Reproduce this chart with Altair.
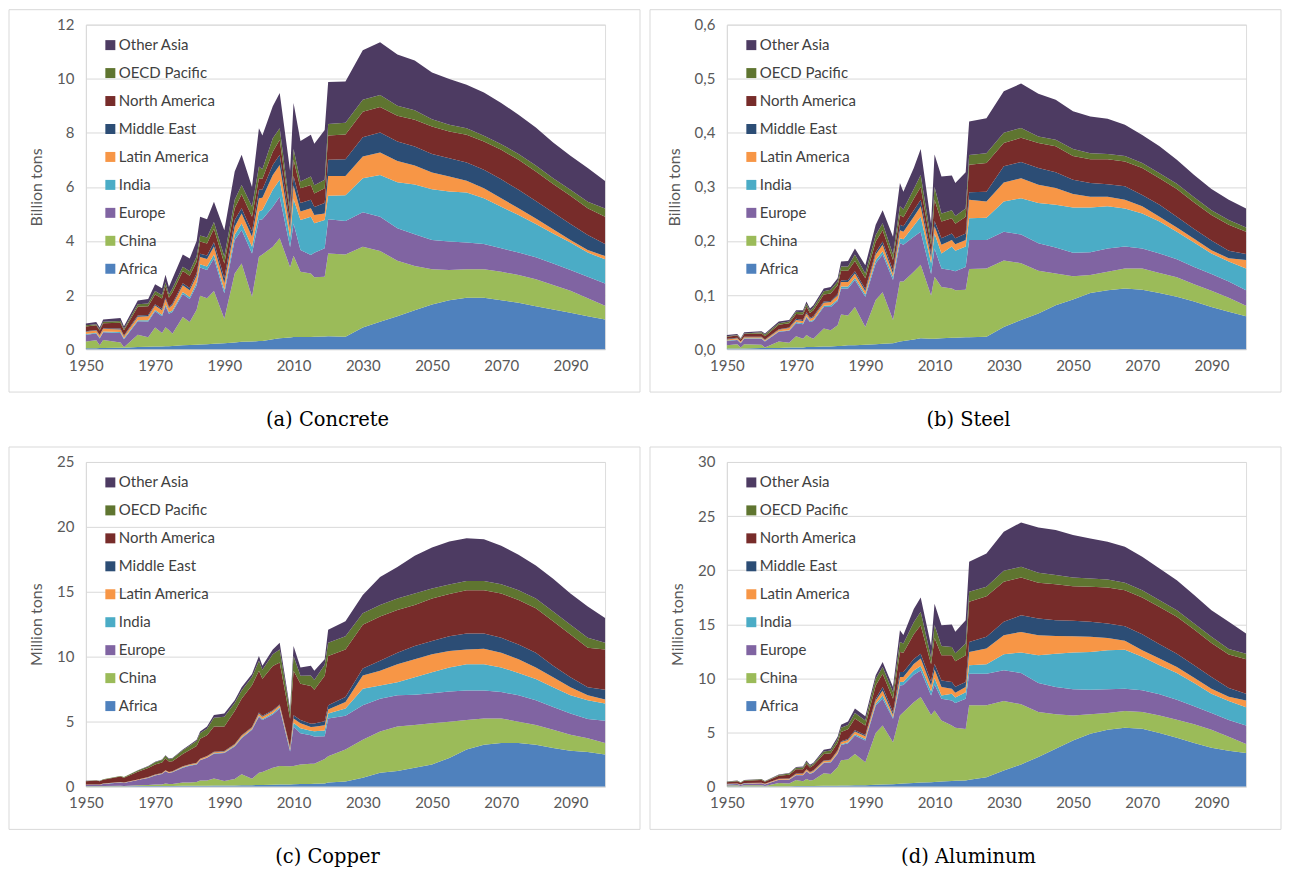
import altair as alt
import pandas as pd

# ---------------- data ----------------
hist_years = [1950, 1953, 1954, 1955, 1960, 1961, 1965, 1968, 1970, 1972, 1973, 1974, 1975,
              1978, 1980, 1982, 1983, 1985, 1987, 1990, 1993, 1995, 1998, 2000, 2001, 2004,
              2006, 2009, 2010, 2012, 2015, 2016, 2019]
future_years = [2020, 2025, 2030, 2035, 2040, 2045, 2050, 2055, 2060, 2065, 2070, 2075,
                2080, 2085, 2090, 2095, 2100]
years = hist_years + future_years

regions = ["Africa", "China", "Europe", "India", "Latin America", "Middle East",
           "North America", "OECD Pacific", "Other Asia"]
colors = ["#4F81BD", "#9BBB59", "#8064A2", "#4BACC6", "#F79646", "#2C4D75",
          "#772C2A", "#5F7530", "#4D3B62"]

x_ticks = [1950, 1970, 1990, 2010, 2030, 2050, 2070, 2090]

# (a) Concrete, billion tons
concrete_africa = [0.03,0.03,0.04,0.04,0.05,0.05,0.08,0.09,0.1,0.1,0.11,0.11,0.12,0.14,0.15,0.16,0.17,0.18,0.2,0.22,0.25,0.27,0.28,0.3,0.3,0.37,0.4,0.43,0.45,0.45,0.45,0.46,0.47,
                   0.48,0.46,0.8,1.01,1.22,1.44,1.65,1.81,1.9,1.9,1.81,1.72,1.59,1.47,1.35,1.22,1.1]
concrete_china = [0.25,0.3,0.1,0.3,0.2,0.02,0.45,0.35,0.7,0.5,0.7,0.6,0.45,1.05,0.85,1.3,1.8,1.7,1.95,0.9,2.55,2.9,1.66,3.12,3.2,3.42,3.7,2.6,3.0,2.41,2.35,2.2,2.21,
                  3.06,3.04,2.99,2.62,2.05,1.63,1.3,1.12,1.05,1.05,1.05,1.02,0.99,0.9,0.81,0.66,0.5]
concrete_europe = [0.25,0.25,0.25,0.28,0.35,0.3,0.5,0.58,0.6,0.62,0.78,0.6,0.8,0.85,0.85,0.9,1.05,1.05,1.2,0.95,1.24,1.24,1.6,1.36,1.3,1.48,1.54,0.75,1.2,0.81,0.68,0.9,1.05,
                   1.26,1.24,1.27,1.27,1.2,1.18,1.09,1.05,0.99,0.94,0.87,0.83,0.82,0.8,0.77,0.8,0.83]
concrete_india = [0.03,0.03,0.03,0.03,0.03,0.03,0.04,0.05,0.05,0.05,0.06,0.05,0.06,0.07,0.08,0.1,0.12,0.13,0.15,0.12,0.19,0.24,0.25,0.31,0.35,0.62,0.62,0.35,0.9,1.11,1.42,1.1,1.05,
                  0.87,0.95,1.26,1.54,1.7,1.84,1.87,1.85,1.85,1.69,1.54,1.39,1.23,1.11,1.01,0.89,0.89]
concrete_latam = [0.08,0.08,0.08,0.1,0.1,0.08,0.13,0.15,0.16,0.17,0.2,0.16,0.2,0.25,0.25,0.25,0.27,0.27,0.3,0.25,0.3,0.37,0.37,0.49,0.45,0.55,0.55,0.3,0.5,0.31,0.31,0.3,0.24,
                  0.73,0.71,0.8,0.83,0.79,0.7,0.62,0.55,0.44,0.37,0.31,0.25,0.2,0.15,0.1,0.1,0.12]
concrete_mideast = [0.02,0.02,0.02,0.02,0.03,0.02,0.04,0.04,0.05,0.05,0.06,0.05,0.06,0.08,0.08,0.1,0.12,0.13,0.15,0.18,0.25,0.19,0.19,0.31,0.3,0.37,0.38,0.2,0.35,0.31,0.31,0.3,0.38,
                    0.6,0.62,0.72,0.74,0.72,0.7,0.69,0.68,0.67,0.68,0.7,0.68,0.65,0.62,0.59,0.55,0.45]
concrete_northam = [0.18,0.17,0.17,0.19,0.22,0.2,0.33,0.33,0.36,0.38,0.42,0.33,0.4,0.45,0.45,0.42,0.45,0.45,0.5,0.55,0.43,0.52,0.55,0.43,0.4,0.49,0.55,0.35,0.6,0.55,0.55,0.5,0.55,
                    0.9,0.92,0.94,0.94,0.95,0.99,1.01,0.99,1.03,1.05,1.09,1.11,1.09,1.06,1.04,0.99,1.01]
concrete_oecdpac = [0.04,0.04,0.04,0.05,0.06,0.05,0.09,0.1,0.13,0.13,0.14,0.12,0.15,0.16,0.17,0.2,0.22,0.22,0.25,0.25,0.31,0.34,0.37,0.43,0.35,0.5,0.43,0.2,0.4,0.25,0.31,0.3,0.31,
                    0.43,0.43,0.44,0.45,0.37,0.35,0.27,0.25,0.24,0.21,0.21,0.22,0.22,0.21,0.22,0.24,0.3]
concrete_otherasia = [0.07,0.08,0.07,0.09,0.11,0.1,0.14,0.16,0.25,0.25,0.28,0.28,0.36,0.45,0.47,0.57,0.7,0.67,0.75,0.98,1.05,1.12,0.73,1.42,1.25,1.18,1.3,1.42,1.7,1.5,1.55,1.54,1.84,
                      1.55,1.53,1.83,1.95,1.9,1.84,1.73,1.69,1.61,1.6,1.52,1.45,1.41,1.32,1.26,1.25,1.02]

# (b) Steel, billion tons
steel_africa = [0.001,0.001,0.001,0.001,0.002,0.002,0.002,0.003,0.003,0.003,0.004,0.004,0.004,0.005,0.005,0.006,0.006,0.007,0.007,0.008,0.009,0.01,0.011,0.014,0.015,0.018,0.02,0.019,0.019,0.02,0.021,0.021,0.022,
                0.022,0.023,0.041,0.054,0.066,0.081,0.092,0.104,0.109,0.112,0.11,0.104,0.097,0.088,0.078,0.069,0.061]
steel_china = [0.006,0.008,0.002,0.008,0.006,0.001,0.012,0.009,0.021,0.016,0.022,0.018,0.015,0.033,0.03,0.038,0.058,0.055,0.071,0.033,0.082,0.095,0.043,0.111,0.11,0.125,0.136,0.08,0.115,0.095,0.091,0.088,0.088,
               0.126,0.126,0.123,0.105,0.079,0.059,0.043,0.033,0.034,0.037,0.039,0.037,0.036,0.032,0.03,0.026,0.019]
steel_europe = [0.008,0.008,0.008,0.01,0.011,0.011,0.018,0.022,0.024,0.027,0.033,0.028,0.033,0.04,0.043,0.045,0.048,0.05,0.05,0.056,0.068,0.07,0.074,0.071,0.068,0.065,0.061,0.04,0.052,0.034,0.034,0.035,0.042,
                0.054,0.053,0.053,0.053,0.051,0.048,0.043,0.042,0.043,0.041,0.037,0.036,0.033,0.032,0.031,0.03,0.029]
steel_india = [0.001,0.001,0.001,0.001,0.001,0.001,0.001,0.001,0.002,0.002,0.002,0.002,0.002,0.002,0.003,0.003,0.004,0.004,0.004,0.004,0.006,0.006,0.006,0.009,0.01,0.02,0.028,0.02,0.028,0.028,0.044,0.038,0.038,
               0.04,0.041,0.056,0.067,0.074,0.079,0.084,0.083,0.078,0.07,0.065,0.059,0.051,0.045,0.038,0.037,0.04]
steel_latam = [0.002,0.002,0.002,0.002,0.002,0.002,0.003,0.004,0.004,0.004,0.005,0.004,0.005,0.006,0.006,0.007,0.008,0.008,0.008,0.006,0.01,0.012,0.006,0.015,0.014,0.017,0.019,0.01,0.013,0.016,0.012,0.012,0.012,
               0.034,0.03,0.035,0.037,0.034,0.031,0.025,0.02,0.018,0.016,0.013,0.009,0.008,0.007,0.006,0.006,0.016]
steel_mideast = [0.001,0.001,0.0,0.001,0.001,0.001,0.001,0.001,0.002,0.002,0.002,0.002,0.002,0.002,0.002,0.003,0.003,0.004,0.004,0.004,0.004,0.006,0.006,0.01,0.01,0.012,0.012,0.008,0.01,0.012,0.012,0.011,0.012,
                 0.014,0.018,0.03,0.03,0.031,0.029,0.026,0.025,0.023,0.025,0.021,0.022,0.02,0.018,0.018,0.014,0.011]
steel_northam = [0.004,0.004,0.004,0.005,0.006,0.006,0.008,0.008,0.009,0.01,0.011,0.009,0.011,0.013,0.014,0.016,0.018,0.017,0.019,0.02,0.02,0.021,0.019,0.018,0.017,0.021,0.024,0.015,0.039,0.031,0.028,0.027,0.031,
                 0.051,0.053,0.043,0.045,0.046,0.048,0.044,0.044,0.046,0.046,0.05,0.049,0.051,0.049,0.047,0.048,0.041]
steel_oecdpac = [0.001,0.001,0.001,0.001,0.002,0.003,0.003,0.003,0.004,0.004,0.005,0.004,0.005,0.006,0.007,0.007,0.008,0.008,0.012,0.009,0.012,0.013,0.01,0.016,0.014,0.018,0.022,0.01,0.024,0.015,0.015,0.014,0.015,
                 0.018,0.018,0.019,0.018,0.012,0.012,0.013,0.011,0.01,0.01,0.009,0.009,0.01,0.01,0.009,0.009,0.008]
steel_otherasia = [0.002,0.002,0.001,0.002,0.002,0.002,0.003,0.003,0.003,0.004,0.004,0.004,0.004,0.005,0.005,0.006,0.009,0.01,0.011,0.015,0.019,0.024,0.033,0.043,0.033,0.039,0.048,0.03,0.06,0.068,0.064,0.061,0.067,
                   0.062,0.065,0.077,0.082,0.079,0.074,0.07,0.068,0.065,0.058,0.052,0.05,0.044,0.041,0.039,0.037,0.035]

# (c) Copper, million tons
copper_africa = [0.01,0.01,0.01,0.01,0.02,0.02,0.03,0.03,0.03,0.04,0.04,0.04,0.04,0.05,0.05,0.05,0.06,0.06,0.07,0.07,0.08,0.09,0.1,0.12,0.12,0.14,0.15,0.16,0.17,0.18,0.19,0.2,0.22,
                 0.3,0.38,0.68,1.06,1.19,1.44,1.7,2.2,2.84,3.22,3.34,3.34,3.22,2.96,2.76,2.66,2.46]
copper_china = [0.02,0.03,0.02,0.03,0.04,0.01,0.06,0.08,0.12,0.12,0.18,0.15,0.15,0.25,0.25,0.3,0.4,0.4,0.55,0.35,0.5,0.85,0.5,0.94,1.0,1.3,1.42,1.4,1.4,1.52,1.55,1.55,1.9,
                2.03,2.46,2.92,3.17,3.42,3.3,3.16,2.79,2.28,2.02,1.9,1.65,1.52,1.4,1.22,1.06,0.88]
copper_europe = [0.1,0.1,0.1,0.15,0.25,0.24,0.4,0.55,0.7,0.8,0.95,0.85,0.9,1.15,1.3,1.35,1.55,1.75,1.9,2.15,2.5,2.78,3.76,4.31,4.0,4.1,4.43,1.14,3.04,2.4,2.2,2.1,1.75,
                 2.91,2.61,2.66,2.53,2.41,2.33,2.33,2.33,2.28,2.16,2.03,2.03,1.9,1.77,1.64,1.47,1.73]
copper_india = [0.01,0.01,0.01,0.01,0.01,0.01,0.01,0.01,0.02,0.02,0.02,0.02,0.02,0.02,0.03,0.03,0.03,0.03,0.04,0.04,0.05,0.06,0.06,0.08,0.08,0.1,0.1,0.1,0.3,0.38,0.35,0.4,0.45,
                0.38,0.55,1.26,1.02,1.01,1.34,1.6,1.85,2.02,2.02,1.9,1.72,1.64,1.52,1.4,1.45,1.33]
copper_latam = [0.01,0.01,0.01,0.02,0.02,0.02,0.03,0.04,0.04,0.04,0.05,0.05,0.05,0.06,0.06,0.07,0.07,0.08,0.08,0.09,0.1,0.12,0.12,0.17,0.17,0.17,0.16,0.15,0.33,0.38,0.3,0.35,0.4,
                0.31,0.51,1.02,1.14,1.39,1.39,1.39,1.27,1.14,1.19,1.14,1.06,0.89,0.76,0.63,0.38,0.3]
copper_mideast = [0.0,0.0,0.0,0.0,0.0,0.0,0.01,0.01,0.01,0.01,0.01,0.01,0.01,0.02,0.02,0.02,0.02,0.03,0.03,0.03,0.04,0.05,0.05,0.08,0.07,0.07,0.06,0.07,0.25,0.26,0.25,0.25,0.3,
                  0.33,0.38,0.55,0.76,0.89,1.02,1.02,1.14,1.22,1.17,1.14,1.14,1.14,0.89,0.76,0.63,0.75]
copper_northam = [0.25,0.29,0.25,0.3,0.42,0.38,0.6,0.7,0.78,0.82,0.9,0.8,0.78,0.95,1.1,1.3,1.55,1.6,1.95,1.89,2.55,2.81,3.21,3.22,2.85,3.4,3.23,2.2,3.43,2.8,2.9,2.6,3.5,
                  3.8,3.67,3.37,3.42,3.29,3.16,3.29,3.24,3.34,3.34,3.42,3.42,3.42,3.42,3.29,3.04,3.11]
copper_oecdpac = [0.02,0.02,0.02,0.03,0.04,0.04,0.08,0.12,0.16,0.19,0.21,0.18,0.2,0.28,0.33,0.38,0.42,0.5,0.68,0.75,0.6,0.64,0.64,0.76,0.7,0.9,1.01,0.5,1.14,0.6,0.8,0.75,0.85,
                  1.01,1.02,0.89,0.88,0.89,0.89,0.76,0.73,0.71,0.71,0.71,0.76,0.76,0.76,0.76,0.76,0.51]
copper_otherasia = [0.01,0.01,0.01,0.01,0.01,0.01,0.02,0.03,0.04,0.04,0.05,0.05,0.05,0.06,0.08,0.1,0.13,0.16,0.2,0.25,0.22,0.25,0.22,0.38,0.31,0.38,0.51,0.22,0.76,0.65,0.76,0.72,0.43,
                    1.01,1.14,1.4,2.15,2.41,2.91,3.16,3.32,3.29,3.22,2.96,2.74,2.53,2.53,2.41,2.41,1.9]

# (d) Aluminum, million tons
alu_africa = [0.01,0.01,0.01,0.02,0.02,0.02,0.03,0.03,0.04,0.04,0.05,0.05,0.05,0.06,0.06,0.07,0.08,0.09,0.1,0.12,0.15,0.17,0.2,0.25,0.27,0.33,0.37,0.4,0.42,0.45,0.5,0.52,0.55,
              0.62,0.86,1.48,2.04,2.72,3.49,4.26,4.88,5.25,5.43,5.34,4.94,4.51,4.01,3.58,3.3,3.09]
alu_china = [0.08,0.1,0.03,0.1,0.1,0.02,0.3,0.25,0.55,0.45,0.65,0.5,0.55,1.15,1.1,1.7,2.35,2.4,2.9,2.11,4.8,5.46,3.88,6.31,6.6,7.46,7.89,6.2,6.6,5.64,5.13,4.9,4.77,
             6.88,6.64,6.42,5.55,4.16,3.18,2.31,1.79,1.54,1.55,1.54,1.63,1.66,1.73,1.67,1.3,0.84]
alu_europe = [0.1,0.12,0.1,0.14,0.17,0.15,0.28,0.35,0.45,0.55,0.7,0.6,0.7,0.95,1.05,1.25,1.4,1.5,1.7,2.01,2.54,2.47,2.17,2.78,2.5,2.54,2.47,1.8,2.4,2.01,2.32,2.3,2.78,
              2.93,2.93,2.84,2.9,2.69,2.53,2.41,2.28,2.19,2.06,2.01,1.95,1.85,1.67,1.54,1.55,1.7]
alu_india = [0.01,0.01,0.01,0.01,0.01,0.01,0.02,0.02,0.03,0.03,0.04,0.04,0.04,0.05,0.06,0.07,0.08,0.1,0.12,0.15,0.15,0.31,0.15,0.31,0.3,0.4,0.41,0.4,0.6,0.31,0.62,0.5,0.62,
             0.77,0.87,1.48,1.89,2.56,3.08,3.4,3.49,3.61,3.61,3.09,2.68,2.47,2.16,1.79,1.75,1.7]
alu_latam = [0.03,0.03,0.03,0.03,0.04,0.04,0.06,0.07,0.09,0.1,0.12,0.1,0.12,0.15,0.15,0.18,0.2,0.2,0.25,0.25,0.31,0.47,0.22,0.46,0.45,0.6,0.68,0.5,0.8,0.78,0.46,0.45,0.47,
             1.24,1.45,1.76,1.91,1.85,1.64,1.51,1.39,1.14,0.81,0.61,0.62,0.56,0.49,0.46,0.4,0.62]
alu_mideast = [0.01,0.01,0.01,0.01,0.01,0.01,0.02,0.02,0.03,0.03,0.04,0.04,0.04,0.05,0.05,0.07,0.08,0.1,0.12,0.12,0.16,0.31,0.25,0.46,0.45,0.45,0.46,0.4,0.5,0.61,0.62,0.55,0.46,
               0.92,1.08,1.24,1.54,1.54,1.45,1.42,1.39,1.33,1.35,1.48,1.33,1.23,1.14,1.08,0.8,0.62]
alu_northam = [0.16,0.2,0.16,0.22,0.25,0.18,0.27,0.35,0.4,0.4,0.5,0.42,0.45,0.6,0.6,0.7,0.85,0.9,1.1,0.87,1.23,1.23,1.23,1.86,1.8,2.3,2.63,1.6,2.4,2.32,2.47,2.35,2.47,
               3.71,3.76,3.7,3.49,3.31,3.33,3.21,3.24,3.34,3.34,3.4,3.45,3.4,3.31,3.15,3.1,3.18]
alu_oecdpac = [0.03,0.05,0.03,0.05,0.07,0.05,0.08,0.1,0.13,0.15,0.18,0.15,0.15,0.22,0.25,0.33,0.38,0.4,0.5,0.46,0.62,0.62,0.62,0.93,0.85,1.1,1.24,0.6,1.2,0.87,0.78,0.75,1.09,
               0.92,0.87,1.02,0.99,0.92,0.84,0.8,0.77,0.74,0.68,0.68,0.62,0.62,0.55,0.56,0.5,0.53]
alu_otherasia = [0.02,0.02,0.02,0.02,0.03,0.02,0.04,0.06,0.08,0.1,0.12,0.1,0.1,0.17,0.18,0.23,0.28,0.31,0.41,0.41,0.31,0.46,0.47,1.08,0.78,1.22,1.33,1.1,1.98,1.92,2.07,1.98,2.16,
                 2.78,3.08,3.61,4.1,4.2,4.16,3.92,3.7,3.48,3.33,3.08,2.93,2.77,2.63,2.47,2.52,1.86]

# ---------------- chart ----------------
AXIS_FONT = "Lato"
GRID = "#D9D9D9"
TEXT = "#595959"
W, H = 520, 325


def make_df(series):
    rows = []
    for idx, (reg, vals) in enumerate(zip(regions, series)):
        for yr, v in zip(years, vals):
            rows.append({"year": yr, "region": reg, "value": v, "stack": idx})
    return pd.DataFrame(rows)


def panel(series, yvals, ytitle, caption, label_expr=None):
    df = make_df(series)
    yaxis_kwargs = dict(values=yvals, title=ytitle, grid=True, gridColor=GRID, domainColor=GRID,
                        ticks=False, labelFont=AXIS_FONT, labelFontSize=15, labelColor=TEXT,
                        labelPadding=12, labelFlush=False, titleFont=AXIS_FONT, titleFontSize=16,
                        titleFontWeight="normal", titleColor=TEXT, titlePadding=12)
    if label_expr:
        yaxis_kwargs["labelExpr"] = label_expr
    area = alt.Chart(df).mark_area(interpolate="linear", opacity=1).encode(
        x=alt.X("year:Q", scale=alt.Scale(domain=[1950, 2100], nice=False, zero=False),
                axis=alt.Axis(values=x_ticks, format="d", title=None, grid=False, ticks=False,
                              domainColor=GRID, labelFont=AXIS_FONT, labelFontSize=15,
                              labelColor=TEXT, labelPadding=9, labelFlush=False)),
        y=alt.Y("value:Q", stack="zero",
                scale=alt.Scale(domain=[0, yvals[-1]], nice=False),
                axis=alt.Axis(**yaxis_kwargs)),
        color=alt.Color("region:N",
                        scale=alt.Scale(domain=regions[::-1], range=colors[::-1]),
                        legend=alt.Legend(title=None, orient="none", legendX=17, legendY=13,
                                          symbolType="square", symbolSize=100,
                                          symbolStrokeWidth=0, symbolOpacity=1,
                                          labelFont=AXIS_FONT, labelFontSize=15,
                                          labelColor="#404040", rowPadding=12,
                                          labelOffset=1, padding=0, labelLimit=300)),
        order=alt.Order("stack:Q", sort="ascending"),
    )
    frame_df = pd.DataFrame({"caption": [caption]})
    frame = alt.Chart(frame_df).mark_rect(fill="white", fillOpacity=0, stroke=GRID,
                                          strokeWidth=1).encode(
        x=alt.value(-77), x2=alt.value(555), y=alt.value(-15), y2=alt.value(368))
    cap = alt.Chart(frame_df).mark_text(font="DejaVu Serif", fontSize=19.5,
                                        color="#000000", baseline="middle",
                                        align="center").encode(
        x=alt.value(242), y=alt.value(396), text="caption:N")
    return alt.layer(frame, area, cap).properties(width=W, height=H)


comma = "replace(format(datum.value, '.1f'), '.', ',')"

pa = panel([concrete_africa, concrete_china, concrete_europe, concrete_india, concrete_latam,
            concrete_mideast, concrete_northam, concrete_oecdpac, concrete_otherasia],
           [0, 2, 4, 6, 8, 10, 12], "Billion tons", "(a) Concrete")
pb = panel([steel_africa, steel_china, steel_europe, steel_india, steel_latam,
            steel_mideast, steel_northam, steel_oecdpac, steel_otherasia],
           [0, 0.1, 0.2, 0.3, 0.4, 0.5, 0.6], "Billion tons", "(b) Steel", comma)
pc = panel([copper_africa, copper_china, copper_europe, copper_india, copper_latam,
            copper_mideast, copper_northam, copper_oecdpac, copper_otherasia],
           [0, 5, 10, 15, 20, 25], "Million tons", "(c) Copper")
pd_ = panel([alu_africa, alu_china, alu_europe, alu_india, alu_latam,
             alu_mideast, alu_northam, alu_oecdpac, alu_otherasia],
            [0, 5, 10, 15, 20, 25, 30], "Million tons", "(d) Aluminum")

row1 = alt.hconcat(pa, pb, spacing=8).resolve_scale(color="independent", x="independent", y="independent")
row2 = alt.hconcat(pc, pd_, spacing=8).resolve_scale(color="independent", x="independent", y="independent")

chart = alt.vconcat(row1, row2, spacing=16).resolve_scale(
    color="independent", x="independent", y="independent"
).resolve_legend(color="independent").properties(
    padding={"left": 0, "top": 0, "right": 0, "bottom": 0}
).configure_view(strokeWidth=0).configure(background="white")

chart.save("out.html", embed_options={"renderer": "svg", "actions": False})
